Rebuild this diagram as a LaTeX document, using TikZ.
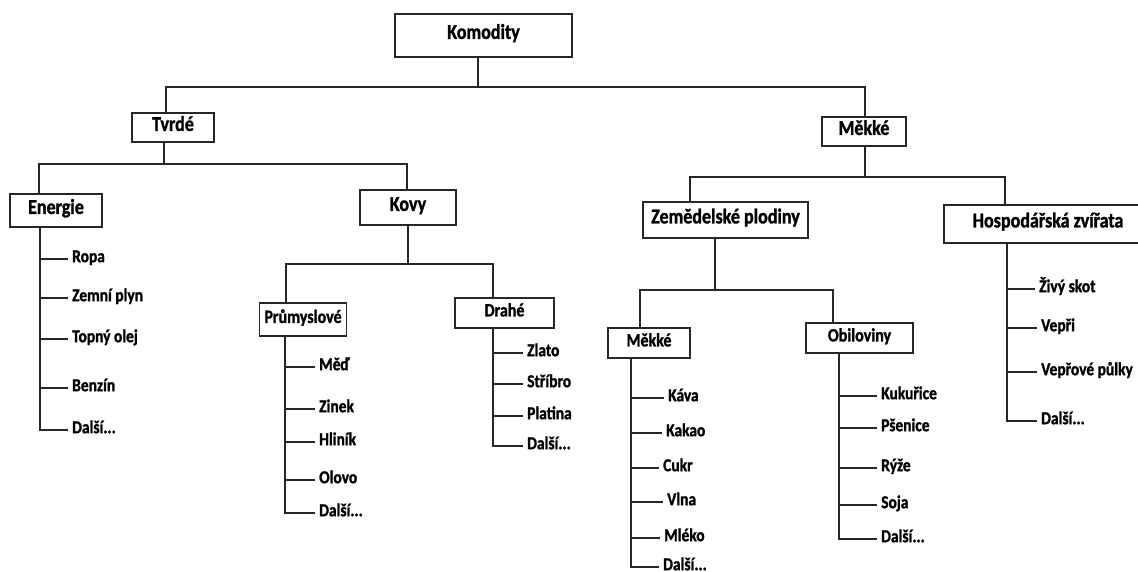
\documentclass[tikz,border=0pt]{standalone}
\usepackage{fontspec}
\setmainfont{Carlito}[FakeStretch=0.85, BoldFeatures={FakeBold=1.3}]

\begin{document}
\begin{tikzpicture}[
  x=1pt, y=-1pt,
  box/.style={draw=black!85, line width=1.3pt, inner sep=0pt, text height=0.72em, text depth=0.04em,
    font=\bfseries\fontsize{21.2}{23}\selectfont},
  subbox/.style={box, font=\bfseries\fontsize{18.8}{21}\selectfont},
  leaf/.style={anchor=west, inner xsep=4pt, inner ysep=0pt, text height=0.72em, text depth=0.08em,
    font=\bfseries\fontsize{18.2}{20}\selectfont},
  edge/.style={draw=black!85, line width=1.1pt}
]
  \useasboundingbox (0,0) rectangle (1138,571);

  % Main boxes
  \node[box, minimum width=177, minimum height=43] (komodity) at (483.5,35.5) {Komodity};
  \node[box, minimum width=82, minimum height=29] (tvrde) at (173,127.5) {Tvrdé};
  \node[box, minimum width=84, minimum height=29] (mekke) at (864,131.5) {Měkké};
  \node[box, minimum width=92, minimum height=33] (energie) at (56,210.5) {Energie};
  \node[box, minimum width=96, minimum height=35] (kovy) at (408,207.5) {Kovy};
  \node[box, minimum width=165, minimum height=36] (zemedel) at (725.5,220) {Zemědelské plodiny};
  \node[box, minimum width=208, minimum height=38] (hosp) at (1048,224) {Hospodářská zvířata};

  % Sub boxes
  \node[subbox, minimum width=87, minimum height=33] (prumysl) at (303,319.5) {Průmyslové};
  \node[subbox, minimum width=99, minimum height=30] (drahe) at (504.5,313) {Drahé};
  \node[subbox, minimum width=82, minimum height=30] (mekke2) at (649,343) {Měkké};
  \node[subbox, minimum width=107, minimum height=30] (obil) at (859.5,338) {Obiloviny};

  % Leaves
  \node[leaf] (ropa) at (68,259) {Ropa};
  \node[leaf] (plyn) at (68,298) {Zemní plyn};
  \node[leaf] (olej) at (68,339) {Topný olej};
  \node[leaf] (benzin) at (68,388) {Benzín};
  \node[leaf] (dalsiE) at (68,430) {Další...};

  \node[leaf] (med) at (315,367) {Měď};
  \node[leaf] (zinek) at (315,409) {Zinek};
  \node[leaf] (hlinik) at (315,442) {Hliník};
  \node[leaf] (olovo) at (315,480) {Olovo};
  \node[leaf] (dalsiP) at (315,513) {Další...};

  \node[leaf] (zlato) at (523,353) {Zlato};
  \node[leaf] (stribro) at (523,384) {Stříbro};
  \node[leaf] (platina) at (523,416) {Platina};
  \node[leaf] (dalsiD) at (523,446) {Další...};

  \node[leaf] (kava) at (664,398) {Káva};
  \node[leaf] (kakao) at (662,433) {Kakao};
  \node[leaf] (cukr) at (659,468) {Cukr};
  \node[leaf] (vlna) at (663,502) {Vlna};
  \node[leaf] (mleko) at (660,538) {Mléko};
  \node[leaf] (dalsiM) at (659,567) {Další...};

  \node[leaf] (kukurice) at (877,396) {Kukuřice};
  \node[leaf] (psenice) at (877,428) {Pšenice};
  \node[leaf] (ryze) at (877,468) {Rýže};
  \node[leaf] (soja) at (877,505) {Soja};
  \node[leaf] (dalsiO) at (877,539) {Další...};

  \node[leaf] (skot) at (1035,289) {Živý skot};
  \node[leaf] (vepri) at (1037,328) {Vepři};
  \node[leaf] (pulky) at (1037,372) {Vepřové půlky};
  \node[leaf] (dalsiH) at (1037,421) {Další...};

  % Bars between levels
  \coordinate (bar0) at (478,87);
  \coordinate (tvrdeUp) at (166,87);
  \coordinate (mekkeUp) at (865,87);
  \draw[edge] (komodity.south -| bar0) -- (bar0);
  \draw[edge] (tvrde.north -| tvrdeUp) -- (tvrdeUp) -- (mekkeUp) -- (mekke.north -| mekkeUp);

  \coordinate (bar1) at (164,164);
  \coordinate (energieUp) at (39,164);
  \coordinate (kovyUp) at (407,164);
  \draw[edge] (tvrde.south -| bar1) -- (bar1);
  \draw[edge] (energie.north -| energieUp) -- (energieUp) -- (kovyUp) -- (kovy.north -| kovyUp);

  \coordinate (bar2) at (865,177);
  \coordinate (zemUp) at (690,177);
  \coordinate (hospUp) at (1005,177);
  \draw[edge] (mekke.south -| bar2) -- (bar2);
  \draw[edge] (zemedel.north -| zemUp) -- (zemUp) -- (hospUp) -- (hosp.north -| hospUp);

  \coordinate (bar3) at (408,264);
  \coordinate (prumUp) at (286,264);
  \coordinate (drahUp) at (493,264);
  \draw[edge] (kovy.south -| bar3) -- (bar3);
  \draw[edge] (prumysl.north -| prumUp) -- (prumUp) -- (drahUp) -- (drahe.north -| drahUp);

  \coordinate (bar4) at (715,290);
  \coordinate (mekke2Up) at (640,290);
  \coordinate (obilUp) at (833,290);
  \draw[edge] (zemedel.south -| bar4) -- (bar4);
  \draw[edge] (mekke2.north -| mekke2Up) -- (mekke2Up) -- (obilUp) -- (obil.north -| obilUp);

  % Trunks with ticks
  \coordinate (eT) at (40,0);
  \draw[edge] (energie.south -| eT) |- (dalsiE.west)
    (ropa.west -| eT) -- (ropa.west)
    (plyn.west -| eT) -- (plyn.west)
    (olej.west -| eT) -- (olej.west)
    (benzin.west -| eT) -- (benzin.west);

  \coordinate (pT) at (285,0);
  \draw[edge] (prumysl.south -| pT) |- (dalsiP.west)
    (med.west -| pT) -- (med.west)
    (zinek.west -| pT) -- (zinek.west)
    (hlinik.west -| pT) -- (hlinik.west)
    (olovo.west -| pT) -- (olovo.west);

  \coordinate (dT) at (493,0);
  \draw[edge] (drahe.south -| dT) |- (dalsiD.west)
    (zlato.west -| dT) -- (zlato.west)
    (stribro.west -| dT) -- (stribro.west)
    (platina.west -| dT) -- (platina.west);

  \coordinate (mT) at (631,0);
  \draw[edge] (mekke2.south -| mT) |- (dalsiM.west)
    (kava.west -| mT) -- (kava.west)
    (kakao.west -| mT) -- (kakao.west)
    (cukr.west -| mT) -- (cukr.west)
    (vlna.west -| mT) -- (vlna.west)
    (mleko.west -| mT) -- (mleko.west);

  \coordinate (oT) at (839,0);
  \draw[edge] (obil.south -| oT) |- (dalsiO.west)
    (kukurice.west -| oT) -- (kukurice.west)
    (psenice.west -| oT) -- (psenice.west)
    (ryze.west -| oT) -- (ryze.west)
    (soja.west -| oT) -- (soja.west);

  \coordinate (hT) at (1007,0);
  \draw[edge] (hosp.south -| hT) |- (dalsiH.west)
    (skot.west -| hT) -- (skot.west)
    (vepri.west -| hT) -- (vepri.west)
    (pulky.west -| hT) -- (pulky.west);
\end{tikzpicture}
\end{document}
